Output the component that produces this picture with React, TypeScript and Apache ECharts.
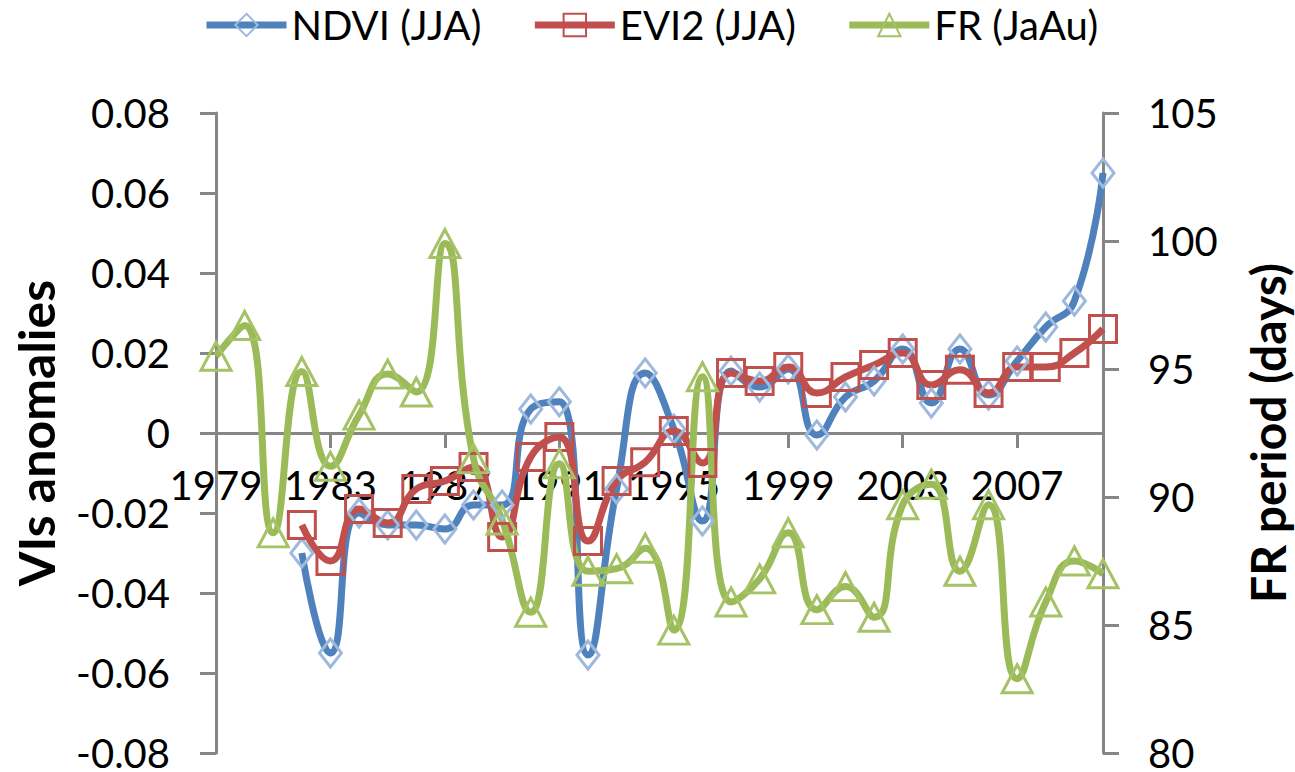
import React, { useEffect, useRef } from "react";
import * as echarts from "echarts";

const years: string[] = [
  "1979", "1980", "1981", "1982", "1983", "1984", "1985", "1986", "1987", "1988",
  "1989", "1990", "1991", "1992", "1993", "1994", "1995", "1996", "1997", "1998",
  "1999", "2000", "2001", "2002", "2003", "2004", "2005", "2006", "2007", "2008",
  "2009", "2010",
];

const ndvi: (number | null)[] = [
  null, null, null, -0.03, -0.055, -0.02, -0.023, -0.023, -0.024, -0.018,
  -0.018, 0.006, 0.0078, -0.0555, -0.014, 0.015, 0.001, -0.022, 0.0155, 0.0115,
  0.016, -0.0005, 0.009, 0.013, 0.021, 0.0075, 0.021, 0.0095, 0.018, 0.0265,
  0.033, 0.065,
];

const evi2: (number | null)[] = [
  null, null, null, -0.023, -0.032, -0.019, -0.0225, -0.014, -0.012, -0.0085,
  -0.026, -0.006, -0.001, -0.027, -0.012, -0.0073, 0.0005, -0.0075, 0.015, 0.013,
  0.0165, 0.01, 0.014, 0.017, 0.02, 0.012, 0.0158, 0.01, 0.0165, 0.0165,
  0.02, 0.026,
];

const fr: number[] = [
  95.5, 96.7, 88.6, 94.9, 91.2, 93.2, 94.8, 94.1, 99.9, 91.5,
  89.1, 85.5, 91.3, 87.1, 87.2, 88.0, 84.8, 94.7, 85.9, 86.8,
  88.6, 85.6, 86.5, 85.3, 89.7, 90.5, 87.1, 89.7, 82.9, 85.9,
  87.5, 87.0,
];

const FONT = "Lato, 'Open Sans', sans-serif";
const AXIS_COLOR = "#868686";

export default function App() {
  const ref = useRef<HTMLDivElement>(null);

  useEffect(() => {
    document.body.style.margin = "0";
    if (!ref.current) return;
    const chart = echarts.init(ref.current, null, { renderer: "svg" });
    const axisLine = { show: true, lineStyle: { color: AXIS_COLOR, width: 3 } };
    const axisTick = { show: true, length: 16, lineStyle: { color: AXIS_COLOR, width: 3 } };
    chart.setOption({
      animation: false,
      backgroundColor: "#ffffff",
      textStyle: { fontFamily: FONT },
      legend: {
        left: 198,
        top: 0,
        itemWidth: 80,
        itemHeight: 28,
        itemGap: 50,
        lineStyle: { width: 7 },
        textStyle: { fontFamily: FONT, fontSize: 40, color: "#000" },
        data: ["NDVI (JJA)", "EVI2 (JJA)", "FR (JaAu)"],
      },
      grid: { left: 216, right: 192, top: 113, bottom: 19, containLabel: false, outerBoundsMode: "none" },
      xAxis: {
        type: "category",
        data: years,
        boundaryGap: false,
        position: "bottom",
        offset: -320,
        axisLine: { ...axisLine, onZero: false },
        axisTick: { ...axisTick, length: 15, interval: 3 },
        axisLabel: {
          show: true,
          interval: 3,
          hideOverlap: false,
          showMinLabel: true,
          fontFamily: FONT,
          fontSize: 40,
          color: "#000",
          margin: 32,
        },
        splitLine: { show: false },
      },
      yAxis: [
        {
          type: "value",
          position: "left",
          min: -0.08,
          max: 0.08,
          interval: 0.02,
          axisLine,
          axisTick,
          splitLine: { show: false },
          axisLabel: {
            fontFamily: FONT,
            fontSize: 40,
            color: "#000",
            margin: 46,
            hideOverlap: false,
            formatter: (v: number) => String(Number(v.toFixed(2))),
          },
          name: "VIs anomalies",
          nameLocation: "middle",
          nameRotate: 90,
          nameGap: 155,
          nameTextStyle: { fontFamily: FONT, fontSize: 50, fontWeight: "bold", color: "#000" },
        },
        {
          type: "value",
          position: "right",
          min: 80,
          max: 105,
          interval: 5,
          axisLine,
          axisTick,
          splitLine: { show: false },
          axisLabel: { fontFamily: FONT, fontSize: 40, color: "#000", margin: 45, hideOverlap: false },
          name: "FR period (days)",
          nameLocation: "middle",
          nameRotate: 90,
          nameGap: 140,
          nameTextStyle: { fontFamily: FONT, fontSize: 48, fontWeight: "bold", color: "#000" },
        },
      ],
      series: [
        {
          name: "NDVI (JJA)",
          type: "line",
          yAxisIndex: 0,
          data: ndvi,
          smooth: true,
          showAllSymbol: true,
          symbol: "diamond",
          symbolSize: [22, 28],
          lineStyle: { color: "#4F81BD", width: 7 },
          itemStyle: { color: "rgba(255,255,255,0)", borderColor: "#9DB9DE", borderWidth: 3 },
        },
        {
          name: "EVI2 (JJA)",
          type: "line",
          yAxisIndex: 0,
          data: evi2,
          smooth: true,
          showAllSymbol: true,
          symbol: "rect",
          symbolSize: 27,
          lineStyle: { color: "#C0504D", width: 7 },
          itemStyle: { color: "rgba(255,255,255,0)", borderColor: "#C0504D", borderWidth: 3 },
        },
        {
          name: "FR (JaAu)",
          type: "line",
          yAxisIndex: 1,
          data: fr,
          smooth: true,
          showAllSymbol: true,
          symbol: "triangle",
          symbolSize: [30, 28],
          lineStyle: { color: "#9BBB59", width: 7 },
          itemStyle: { color: "rgba(255,255,255,0)", borderColor: "#A5C266", borderWidth: 3 },
        },
      ],
    });
    return () => chart.dispose();
  }, []);

  return <div ref={ref} style={{ width: 1295, height: 772 }} />;
}
